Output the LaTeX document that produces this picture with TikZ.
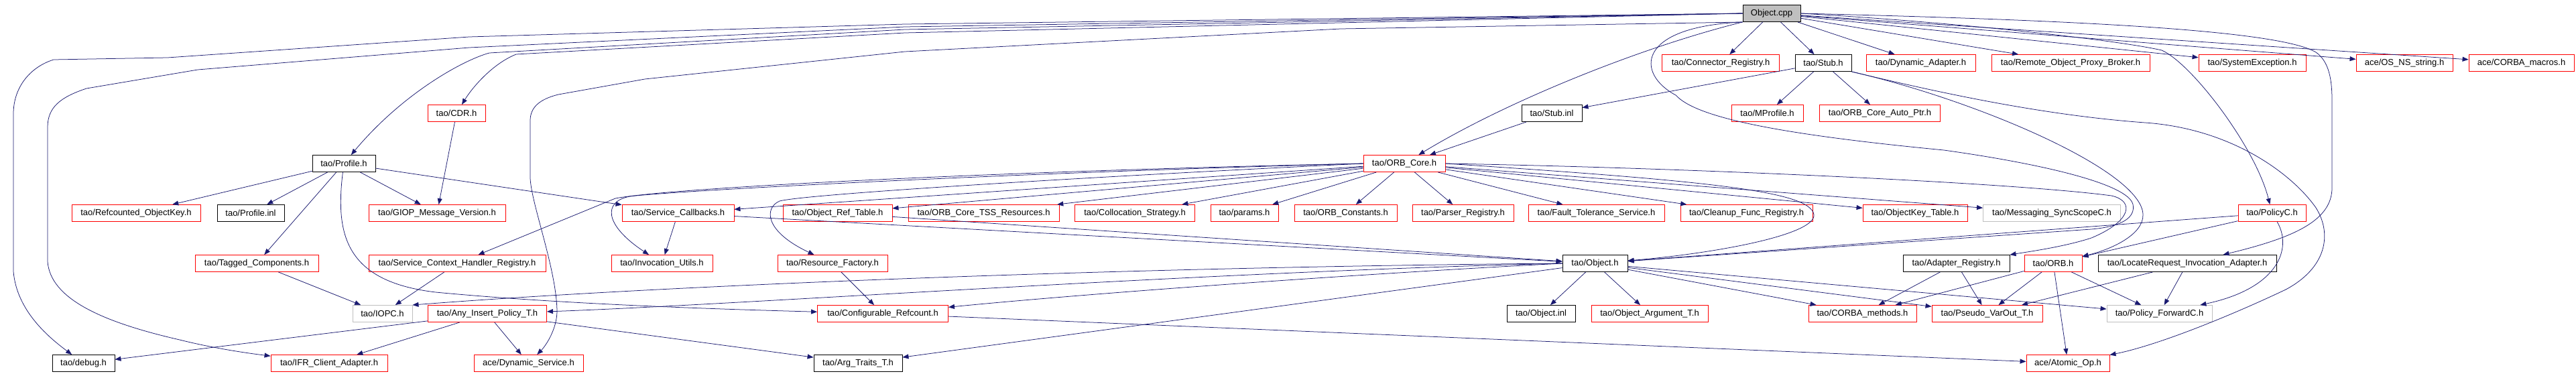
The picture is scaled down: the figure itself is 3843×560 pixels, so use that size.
\documentclass[tikz,border=0pt]{standalone}
\usepackage{fontspec}
\setmainfont{Liberation Sans}
\usetikzlibrary{arrows.meta}
\definecolor{depblue}{HTML}{191970}
\definecolor{boxgray}{HTML}{BFBFBF}
\tikzset{
	hfile/.style={draw=black, line width=0.9pt, inner sep=0pt, minimum height=25pt, font=\fontsize{13pt}{15pt}\selectfont},
	redfile/.style={hfile, draw=red},
	grayfile/.style={hfile, draw=boxgray},
	dep/.style={draw=depblue, line width=0.75pt, -{Triangle[length=9pt,width=7pt]}}
}
\begin{document}
\begin{tikzpicture}[x=1pt,y=-1pt]
		\fill[white] (0,0) rectangle (3843,560);
		\useasboundingbox (0,0) rectangle (3843,560);
		\node[hfile, fill=boxgray, minimum width=86pt] (objcpp) at (2643,20) {Object.cpp};
		\node[redfile, minimum width=175pt] (connreg) at (2567,94) {tao/Connector\_Registry.h};
		\node[hfile, minimum width=84pt] (stubh) at (2720,94) {tao/Stub.h};
		\node[redfile, minimum width=163pt] (dynadapt) at (2865.5,94) {tao/Dynamic\_Adapter.h};
		\node[redfile, minimum width=236pt] (rempb) at (3089,94) {tao/Remote\_Object\_Proxy\_Broker.h};
		\node[redfile, minimum width=160pt] (sysexc) at (3360,94) {tao/SystemException.h};
		\node[redfile, minimum width=144pt] (osns) at (3587,94) {ace/OS\_NS\_string.h};
		\node[redfile, minimum width=157pt] (corbamac) at (3761.5,94) {ace/CORBA\_macros.h};
		\node[redfile, minimum width=86pt] (cdr) at (681,169) {tao/CDR.h};
		\node[hfile, minimum width=90pt] (stubinl) at (2315,169) {tao/Stub.inl};
		\node[redfile, minimum width=107pt] (mprof) at (2636.5,169) {tao/MProfile.h};
		\node[redfile, minimum width=180pt] (corap) at (2804.5,169) {tao/ORB\_Core\_Auto\_Ptr.h};
		\node[hfile, minimum width=94pt] (profh) at (513,244) {tao/Profile.h};
		\node[redfile, minimum width=122pt] (orbcore) at (2095,244) {tao/ORB\_Core.h};
		\node[redfile, minimum width=192pt] (refok) at (203,318) {tao/Refcounted\_ObjectKey.h};
		\node[hfile, minimum width=100pt] (profinl) at (374,318) {tao/Profile.inl};
		\node[redfile, minimum width=204pt] (giop) at (652,318) {tao/GIOP\_Message\_Version.h};
		\node[redfile, minimum width=167pt] (svccb) at (1011.5,318) {tao/Service\_Callbacks.h};
		\node[redfile, minimum width=163pt] (objref) at (1249.5,318) {tao/Object\_Ref\_Table.h};
		\node[redfile, minimum width=225pt] (tss) at (1467.5,318) {tao/ORB\_Core\_TSS\_Resources.h};
		\node[redfile, minimum width=179pt] (coll) at (1693,318) {tao/Collocation\_Strategy.h};
		\node[redfile, minimum width=101pt] (params) at (1856.5,318) {tao/params.h};
		\node[redfile, minimum width=153pt] (orbconst) at (2007.5,318) {tao/ORB\_Constants.h};
		\node[redfile, minimum width=151pt] (parser) at (2182.5,318) {tao/Parser\_Registry.h};
		\node[redfile, minimum width=203pt] (ftsvc) at (2381.5,318) {tao/Fault\_Tolerance\_Service.h};
		\node[redfile, minimum width=197pt] (cleanup) at (2605.5,318) {tao/Cleanup\_Func\_Registry.h};
		\node[redfile, minimum width=156pt] (okt) at (2857,318) {tao/ObjectKey\_Table.h};
		\node[grayfile, minimum width=205pt] (msgsync) at (3061,318) {tao/Messaging\_SyncScopeC.h};
		\node[redfile, minimum width=101pt] (policyc) at (3389.5,318) {tao/PolicyC.h};
		\node[redfile, minimum width=184pt] (tagged) at (383,393) {tao/Tagged\_Components.h};
		\node[redfile, minimum width=264pt] (schr) at (682,393) {tao/Service\_Context\_Handler\_Registry.h};
		\node[redfile, minimum width=151pt] (invut) at (987.5,393) {tao/Invocation\_Utils.h};
		\node[redfile, minimum width=164pt] (resfac) at (1242,393) {tao/Resource\_Factory.h};
		\node[hfile, minimum width=97pt] (objh) at (2379.5,393) {tao/Object.h};
		\node[hfile, minimum width=159pt] (adreg) at (2918.5,393) {tao/Adapter\_Registry.h};
		\node[redfile, minimum width=86pt] (orbh) at (3063,393) {tao/ORB.h};
		\node[hfile, minimum width=266pt] (locreq) at (3263,393) {tao/LocateRequest\_Invocation\_Adapter.h};
		\node[grayfile, minimum width=89pt] (iopc) at (570.5,468) {tao/IOPC.h};
		\node[redfile, minimum width=177pt] (anyins) at (727,468) {tao/Any\_Insert\_Policy\_T.h};
		\node[redfile, minimum width=195pt] (confrc) at (1317,468) {tao/Configurable\_Refcount.h};
		\node[hfile, minimum width=102pt] (objinl) at (2299,468) {tao/Object.inl};
		\node[redfile, minimum width=174pt] (objarg) at (2461,468) {tao/Object\_Argument\_T.h};
		\node[redfile, minimum width=161pt] (corbameth) at (2778.5,468) {tao/CORBA\_methods.h};
		\node[redfile, minimum width=165pt] (pseudo) at (2964.5,468) {tao/Pseudo\_VarOut\_T.h};
		\node[grayfile, minimum width=157pt] (polfwd) at (3221.5,468) {tao/Policy\_ForwardC.h};
		\node[hfile, minimum width=93pt] (debugh) at (124.5,542) {tao/debug.h};
		\node[redfile, minimum width=174pt] (ifr) at (491,542) {tao/IFR\_Client\_Adapter.h};
		\node[redfile, minimum width=163pt] (dynsvc) at (788.5,542) {ace/Dynamic\_Service.h};
		\node[hfile, minimum width=132pt] (argtr) at (1280,542) {tao/Arg\_Traits\_T.h};
		\node[redfile, minimum width=124pt] (atomic) at (3085,542) {ace/Atomic\_Op.h};
		% Object.cpp
		\draw[dep] (objcpp) -- (connreg);
		\draw[dep] (objcpp) -- (stubh);
		\draw[dep] (objcpp) -- (dynadapt);
		\draw[dep] (objcpp) -- (rempb);
		\draw[dep] (objcpp) -- (sysexc);
		\draw[dep] (objcpp) -- (osns);
		\draw[dep] (objcpp) -- (corbamac);
		\draw[dep] (objcpp.east) .. controls (2900,32) and (3150,58) .. (3225,75) .. controls (3270,95) and (3365,220) .. (policyc);
		\draw[dep] (objcpp.east) .. controls (3100,30) and (3400,45) .. (3455,78) .. controls (3475,92) and (3479,120) .. (3479,150) -- (3479,280) .. controls (3479,330) and (3420,355) .. (locreq);
		\draw[dep] (objcpp.south west) .. controls (2450,70) and (2250,150) .. (orbcore);
		\draw[dep] (objcpp.south west) .. controls (2440,40) and (2440,110) .. (2500,142) .. controls (2530,175) and (2650,200) .. (2900,224) .. controls (3050,245) and (3175,275) .. (3182,305) .. controls (3186,325) and (3165,338) .. (3120,342) -- (objh);
		\draw[dep] (objcpp.west) -- (1350,36) -- (700,55) -- (250,86) -- (80,89) .. controls (45,100) and (20,130) .. (20,170) -- (20,405) .. controls (25,465) and (75,505) .. (debugh);
		\draw[dep] (objcpp.west) -- (1350,40) -- (700,71) -- (295,104) -- (129,132) .. controls (90,145) and (71,160) .. (71,190) -- (71,390) .. controls (75,445) and (150,480) .. (268,507) .. controls (320,520) and (370,527) .. (ifr);
		\draw[dep] (objcpp.west) -- (1350,44) -- (730,79) .. controls (690,90) and (600,140) .. (profh);
		\draw[dep] (objcpp.west) -- (1350,49) -- (770,81) .. controls (735,95) and (705,130) .. (cdr);
		\draw[dep] (objcpp.south west) -- (2000,43) -- (1350,77) -- (962,118) -- (833,141) .. controls (805,148) and (791,160) .. (791,180) -- (791,264) .. controls (791,300) and (830,400) .. (831,464) .. controls (831,490) and (815,515) .. (dynsvc);
		% Stub.h
		\draw[dep] (stubh) -- (stubinl);
		\draw[dep] (stubh) -- (mprof);
		\draw[dep] (stubh) -- (corap);
		\draw[dep] (stubh.south east) .. controls (2950,150) and (3195,255) .. (3197,320) .. controls (3198,350) and (3150,372) .. (orbh);
		\draw[dep] (stubh.south east) .. controls (2900,140) and (3050,172) .. (3200,183) .. controls (3330,192) and (3420,260) .. (3455,310) .. controls (3480,350) and (3470,400) .. (3410,432) .. controls (3330,470) and (3220,515) .. (atomic);
		\draw[dep] (stubinl) -- (orbcore);
		% Profile.h, CDR.h
		\draw[dep] (cdr) -- (giop);
		\draw[dep] (profh) -- (refok);
		\draw[dep] (profh) -- (profinl);
		\draw[dep] (profh) -- (giop);
		\draw[dep] (profh) -- (svccb);
		\draw[dep] (profh) -- (tagged);
		\draw[dep] (profh) .. controls (500,350) and (515,420) .. (650,436) .. controls (850,455) and (1100,462) .. (confrc);
		% ORB_Core.h
		\draw[dep] (orbcore) -- (svccb);
		\draw[dep] (orbcore) -- (objref);
		\draw[dep] (orbcore) -- (tss);
		\draw[dep] (orbcore) -- (coll);
		\draw[dep] (orbcore) -- (params);
		\draw[dep] (orbcore) -- (orbconst);
		\draw[dep] (orbcore) -- (parser);
		\draw[dep] (orbcore) -- (ftsvc);
		\draw[dep] (orbcore) -- (cleanup);
		\draw[dep] (orbcore) -- (okt);
		\draw[dep] (orbcore) -- (msgsync);
		\draw[dep] (orbcore.west) .. controls (1500,255) and (1000,280) .. (918,296) -- (schr);
		\draw[dep] (orbcore.west) .. controls (1500,258) and (1000,285) .. (940,293) .. controls (900,300) and (900,335) .. (invut);
		\draw[dep] (orbcore.west) .. controls (1600,265) and (1200,290) .. (1163,300) .. controls (1140,310) and (1140,345) .. (resfac);
		\draw[dep] (orbcore.east) .. controls (2550,270) and (2700,285) .. (2706,320) .. controls (2710,350) and (2560,378) .. (objh);
		\draw[dep] (orbcore.east) .. controls (2500,250) and (3000,272) .. (3150,292) .. controls (3185,300) and (3180,330) .. (3120,355) .. controls (3080,368) and (3030,375) .. (adreg);
		% middle rows
		\draw[dep] (svccb) -- (invut);
		\draw[dep] (svccb) -- (objh);
		\draw[dep] (objref) -- (objh);
		\draw[dep] (resfac) -- (confrc);
		\draw[dep] (tagged) -- (iopc);
		\draw[dep] (schr) -- (iopc);
		\draw[dep] (policyc) -- (objh);
		\draw[dep] (policyc) -- (orbh);
		\draw[dep] (policyc) .. controls (3420,370) and (3400,430) .. (polfwd);
		% Object.h
		\draw[dep] (objh.west) .. controls (1700,398) and (1000,425) .. (iopc.north east);
		\draw[dep] (objh.west) .. controls (1800,405) and (1100,455) .. (anyins);
		\draw[dep] (objh.west) .. controls (2000,410) and (1600,440) .. (confrc);
		\draw[dep] (objh) -- (argtr);
		\draw[dep] (objh) -- (objinl);
		\draw[dep] (objh) -- (objarg);
		\draw[dep] (objh) -- (corbameth);
		\draw[dep] (objh) -- (pseudo);
		\draw[dep] (objh) -- (polfwd);
		% lower rows
		\draw[dep] (anyins) -- (debugh);
		\draw[dep] (anyins) -- (ifr);
		\draw[dep] (anyins) -- (dynsvc);
		\draw[dep] (anyins) -- (argtr);
		\draw[dep] (confrc) -- (atomic);
		\draw[dep] (adreg) -- (corbameth);
		\draw[dep] (adreg) -- (pseudo);
		\draw[dep] (orbh) -- (corbameth);
		\draw[dep] (orbh) -- (pseudo);
		\draw[dep] (orbh) -- (polfwd);
		\draw[dep] (orbh) -- (atomic);
		\draw[dep] (locreq) -- (pseudo);
		\draw[dep] (locreq) -- (polfwd);
	\end{tikzpicture}
\end{document}
